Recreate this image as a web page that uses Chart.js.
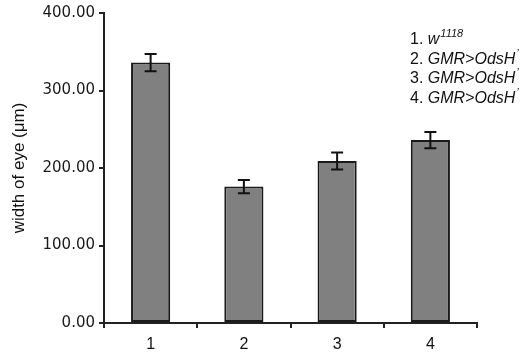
<!DOCTYPE html>
<html><head><meta charset="utf-8">
<script src="https://cdn.jsdelivr.net/npm/chart.js@4/dist/chart.umd.min.js"></script>
<style>html,body{margin:0;padding:0;background:#fff}#w{width:520px;height:362px}</style>
</head><body><div id="w"><canvas id="c" width="520" height="362"></canvas></div>
<script>
const categories = ['1','2','3','4'];
const eyeWidth = [336, 176, 209, 236];
const errorSD = [11, 8.5, 11, 10.5];
const yTicks = [0, 100, 200, 300, 400];
const legendItems = [
  {num:'1. ', name:'w', sup:'1118'},
  {num:'2. ', name:'GMR>OdsH', sup:'\u2019'},
  {num:'3. ', name:'GMR>OdsH', sup:'\u2019'},
  {num:'4. ', name:'GMR>OdsH', sup:'\u2019'}
];

const errPlugin = {
  id:'err',
  afterDatasetsDraw(chart){
    const ctx = chart.ctx, y = chart.scales.y, meta = chart.getDatasetMeta(0);
    ctx.save(); ctx.strokeStyle='#111'; ctx.lineWidth=2;
    meta.data.forEach((b,i)=>{
      const x=b.x, top=y.getPixelForValue(eyeWidth[i]+errorSD[i]), bot=y.getPixelForValue(eyeWidth[i]-errorSD[i]);
      ctx.beginPath();
      ctx.moveTo(x,top); ctx.lineTo(x,bot);
      ctx.moveTo(x-6,top); ctx.lineTo(x+6,top);
      ctx.moveTo(x-6,bot); ctx.lineTo(x+6,bot);
      ctx.stroke();
    });
    ctx.restore();
  }
};
const legendPlugin = {
  id:'leg',
  afterDraw(chart){
    const ctx=chart.ctx; ctx.save(); ctx.fillStyle='#111'; ctx.textBaseline='alphabetic';
    legendItems.forEach((it,i)=>{
      let x=410, y=44+i*19.5;
      ctx.font='16px "Liberation Sans", Arial, sans-serif';
      ctx.fillText(it.num,x,y); x+=ctx.measureText(it.num).width;
      ctx.font='italic 16px "Liberation Sans", Arial, sans-serif';
      ctx.fillText(it.name,x,y); x+=ctx.measureText(it.name).width+1;
      ctx.font='italic 11px "Liberation Sans", Arial, sans-serif';
      ctx.fillText(it.sup,x,y-7);
    });
    ctx.restore();
  }
};

new Chart(document.getElementById('c'),{
  type:'bar',
  data:{labels:categories,datasets:[{data:eyeWidth,backgroundColor:'#808080',borderColor:'#1a1a1a',borderWidth:2,borderSkipped:false,barPercentage:0.42,categoryPercentage:1}]},
  options:{
    responsive:false,animation:false,
    layout:{padding:{top:13,right:43,left:9,bottom:0}},
    plugins:{legend:{display:false},tooltip:{enabled:false}},
    scales:{
      x:{
        grid:{display:true,drawOnChartArea:false,drawTicks:true,tickLength:5,color:'#222',lineWidth:2,offset:true},
        border:{display:true,color:'#222',width:2},
        ticks:{color:'#111',font:{family:'"Liberation Sans", Arial, sans-serif',size:16},padding:7},
        afterFit(s){s.height=39;}
      },
      y:{
        min:0,max:400,
        afterBuildTicks(s){s.ticks=yTicks.map(v=>({value:v}));},
        grid:{display:true,drawOnChartArea:false,drawTicks:true,tickLength:5,color:'#222',lineWidth:2},
        border:{display:true,color:'#222',width:2},
        ticks:{color:'#1a1a1a',font:{family:'"DejaVu Sans", Verdana, sans-serif',size:15},padding:4,callback:v=>v.toFixed(2)},
        title:{display:true,text:'width of eye (\u03bcm)',color:'#111',font:{family:'"Liberation Sans", Arial, sans-serif',size:17},padding:{top:0,bottom:4}},
        afterFit(s){s.width=95;}
      }
    }
  },
  plugins:[errPlugin,legendPlugin]
});
</script></body></html>
